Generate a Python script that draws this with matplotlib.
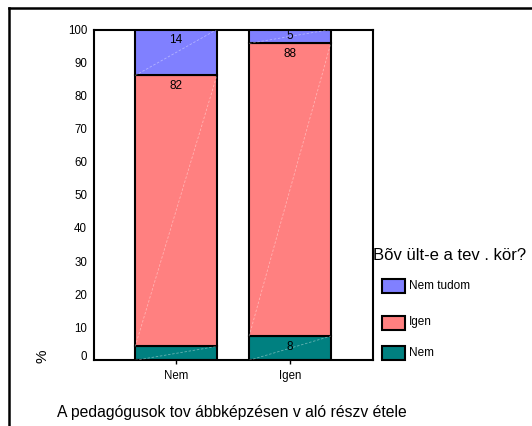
import matplotlib
matplotlib.use("Agg")
import matplotlib.pyplot as plt
from matplotlib.patches import Rectangle
from matplotlib.lines import Line2D
import matplotlib.transforms as mtransforms
import numpy as np

plt.rcParams['font.family'] = ['Liberation Sans', 'DejaVu Sans']

# ---- data ----
categories = ["Nem", "Igen"]
series_names = ["Nem", "Igen", "Nem tudom"]           # bottom -> top
val_nem = [4.2, 7.3]
val_igen = [81.9, 88.5]
val_nemtudom = [13.9, 4.2]
lbl_nem = ["", "8"]
lbl_igen = ["82", "88"]
lbl_nemtudom = ["14", "5"]
colors = ["#008080", "#FF8080", "#8080FF"]
legend_title = "Bõv ült-e a tev . kör?"
xlabel = "A pedagógusok tov ábbképzésen v aló részv étele"
ylabel = "%"
yticks = [0, 10, 20, 30, 40, 50, 60, 70, 80, 90, 100]

W, H = 532, 426
fig = plt.figure(figsize=(W / 100, H / 100), dpi=100)
AX_L, AX_R, AX_T, AX_B = 94, 373, 29.5, 360.3
ax = fig.add_axes([AX_L / W, 1 - AX_B / H, (AX_R - AX_L) / W, (AX_B - AX_T) / H])

x = np.arange(len(categories))
width = 0.717
series = [val_nem, val_igen, val_nemtudom]
labels = [lbl_nem, lbl_igen, lbl_nemtudom]
bottom = np.zeros(len(categories))
for vals, lbls, col in zip(series, labels, colors):
    vals = np.array(vals)
    bars = ax.bar(x, vals, width, bottom=bottom, color=col,
                  edgecolor="black", linewidth=1.5, zorder=2)
    for b, v, bt, lb in zip(bars, vals, bottom, lbls):
        # faint diagonal from bottom-left to top-right (chart artefact)
        x0 = b.get_x(); x1 = x0 + b.get_width()
        ax.plot([x0, x1], [bt, bt + v], color="white", alpha=0.4,
                lw=0.6, ls=(0, (3, 2)), zorder=3)
        if lb:
            off = min(3.3, v / 2)
            ax.text(b.get_x() + b.get_width() / 2, bt + v - off, lb,
                    ha="center", va="center", fontsize=8.5, color="black",
                    zorder=4)
    bottom = bottom + vals

ax.set_xlim(-0.72, 1.729)
ax.set_ylim(0, 100)
ax.set_xticks(x)
ax.set_xticklabels(categories, fontsize=8.3)
ax.set_yticks(yticks)
ax.set_yticklabels([str(t) for t in yticks], fontsize=8.3)
ax.tick_params(axis="x", direction="out", length=3, width=1, pad=4)
ax.tick_params(axis="y", length=0, pad=5)
# the "0" label sits a little above the baseline in the reference
ylabs = ax.get_yticklabels()
ylabs[0].set_transform(ylabs[0].get_transform() +
                       mtransforms.ScaledTranslation(0, 4.5 / 100, fig.dpi_scale_trans))
for s in ax.spines.values():
    s.set_linewidth(1.5)
    s.set_color("black")

fig.text(42.5 / W, 1 - 356 / H, ylabel, rotation=90,
         ha="center", va="center", fontsize=11)

# outer frame (top and left lines)
fig.add_artist(Line2D([9 / W, 9 / W], [0, 1 - 8 / H], transform=fig.transFigure,
                      color="black", lw=1.8))
fig.add_artist(Line2D([9 / W, 1], [1 - 8 / H, 1 - 8 / H], transform=fig.transFigure,
                      color="black", lw=1.8))

# x label
fig.text(57 / W, 1 - 413 / H, xlabel, ha="left", va="center", fontsize=11.3)

# legend (manual)
fig.text(373 / W, 1 - 255 / H, legend_title, ha="left", va="center", fontsize=12)
leg_y = [286, 322.5, 353]
for name, col, yc in zip(reversed(series_names), reversed(colors), leg_y):
    fig.add_artist(Rectangle((382 / W, 1 - (yc + 7) / H), 23 / W, 14 / H,
                             transform=fig.transFigure, facecolor=col,
                             edgecolor="black", linewidth=1.5))
    fig.text(409 / W, 1 - yc / H, name, ha="left", va="center", fontsize=8.5)

fig.savefig("out.png", dpi=100)
